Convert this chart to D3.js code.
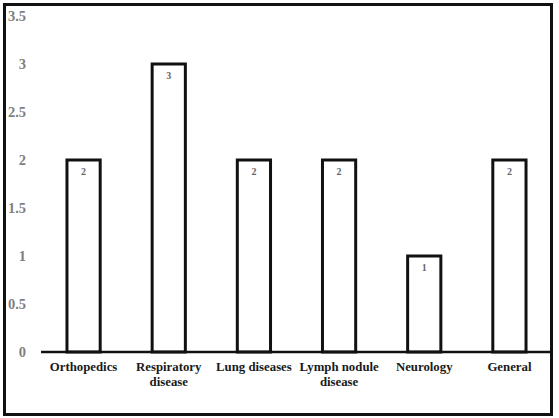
<!DOCTYPE html>
<html>
<head>
<meta charset="utf-8">
<script src="https://cdn.jsdelivr.net/npm/d3@7"></script>
<style>
  html, body { margin: 0; padding: 0; background: #fff; }
  svg { display: block; }
  .tick-label { font-family: "Liberation Serif", "Times New Roman", serif; font-weight: bold; font-size: 14.5px; fill: #7f7f7f; }
  .cat-label { font-family: "Liberation Serif", "Times New Roman", serif; font-weight: bold; font-size: 12.8px; fill: #1a1a1a; }
  .val-label { font-family: "Liberation Serif", "Times New Roman", serif; font-weight: bold; font-size: 10px; fill: #666; }
</style>
</head>
<body>
<svg id="chart"></svg>
<script>
const WIDTH = 559;
const HEIGHT = 418;

const categories = [
  ['Orthopedics'],
  ['Respiratory', 'disease'],
  ['Lung diseases'],
  ['Lymph nodule', 'disease'],
  ['Neurology'],
  ['General']
];
const values = [2, 3, 2, 2, 1, 2];
const yTicks = [0, 0.5, 1, 1.5, 2, 2.5, 3, 3.5];

const svg = d3.select('#chart').attr('width', WIDTH).attr('height', HEIGHT);

// outer frame
svg.append('rect')
  .attr('x', 4.5).attr('y', 4.5)
  .attr('width', 547).attr('height', 410)
  .attr('fill', 'none')
  .attr('stroke', '#111')
  .attr('stroke-width', 3);

const x = d3.scaleBand()
  .domain(d3.range(categories.length))
  .range([41, 552])
  .paddingInner(0.61)
  .paddingOuter(0.305);

const y = d3.scaleLinear()
  .domain([0, 3.5])
  .range([352, 16]);

// y tick labels, no axis line
svg.append('g').selectAll('text')
  .data(yTicks)
  .join('text')
  .attr('class', 'tick-label')
  .attr('x', 26)
  .attr('y', d => y(d))
  .attr('dy', '0.35em')
  .attr('text-anchor', 'end')
  .text(d => d);

// bars
svg.append('g').selectAll('rect')
  .data(values)
  .join('rect')
  .attr('x', (d, i) => x(i))
  .attr('y', d => y(d))
  .attr('width', x.bandwidth())
  .attr('height', d => y(0) - y(d))
  .attr('fill', '#fff')
  .attr('stroke', '#111')
  .attr('stroke-width', 3);

// x axis baseline
svg.append('line')
  .attr('x1', 41).attr('x2', 552)
  .attr('y1', y(0)).attr('y2', y(0))
  .attr('stroke', '#111')
  .attr('stroke-width', 2.5);

// value labels
svg.append('g').selectAll('text')
  .data(values)
  .join('text')
  .attr('class', 'val-label')
  .attr('x', (d, i) => x(i) + x.bandwidth() / 2)
  .attr('y', d => y(d) + 15)
  .attr('text-anchor', 'middle')
  .text(d => d);

// category labels
const cat = svg.append('g').selectAll('text')
  .data(categories)
  .join('text')
  .attr('class', 'cat-label')
  .attr('text-anchor', 'middle')
  .attr('x', (d, i) => x(i) + x.bandwidth() / 2)
  .attr('y', 371);

cat.selectAll('tspan')
  .data(d => d)
  .join('tspan')
  .attr('x', function () { return d3.select(this.parentNode).attr('x'); })
  .attr('dy', (d, i) => (i === 0 ? 0 : 15))
  .text(d => d);
</script>
</body>
</html>
